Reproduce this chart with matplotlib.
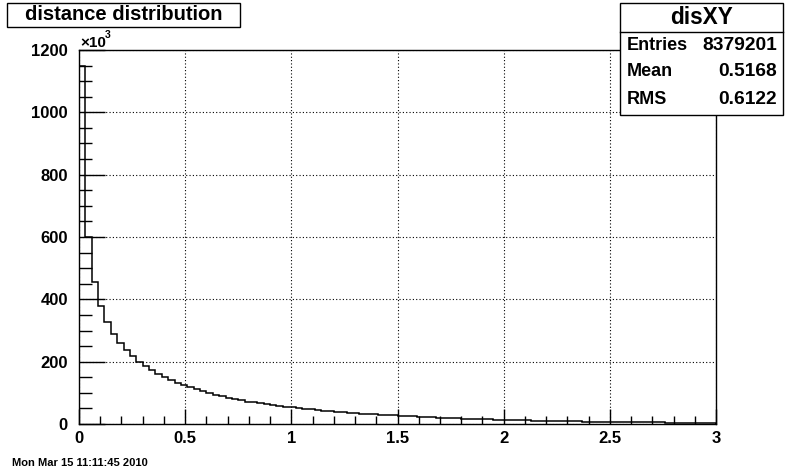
"""
Recreate the ROOT 'disXY' distance distribution histogram.
"""
import numpy as np
import matplotlib.pyplot as plt
from matplotlib.patches import Rectangle
from matplotlib.ticker import MultipleLocator

plt.rcParams['font.family'] = ['Liberation Sans', 'DejaVu Sans']
plt.rcParams['font.weight'] = 'bold'

# bin contents, in units of 10^3 entries (100 bins, 0 - 3)
counts = np.array([
    1150, 600, 456, 378, 327, 289, 260, 237, 218, 199,
    185, 172, 161, 150, 140, 132, 124, 118, 111, 105,
    99, 94, 89, 84, 80, 76, 72, 69, 66, 63,
    60, 58, 56, 53, 51, 49, 47, 45, 43, 41,
    39, 38, 36, 34.5, 33, 31.5, 30.5, 29.5, 28.5, 27.5,
    26.5, 25.5, 24.5, 23.5, 22.5, 21.5, 20.5, 19.5, 18.7, 18,
    17.3, 16.6, 16, 15.4, 14.8, 14.2, 13.6, 13, 12.5, 12,
    11.5, 11, 10.6, 10.2, 9.8, 9.4, 9, 8.6, 8.3, 8,
    7.7, 7.4, 7.1, 6.8, 6.5, 6.3, 6.0, 5.8, 5.6, 5.4,
    5.2, 5.0, 4.8, 4.6, 4.4, 4.2, 4.0, 3.9, 3.7, 3.5,
])
x_min, x_max = 0.0, 3.0
edges = np.linspace(x_min, x_max, len(counts) + 1)

hist_name = 'disXY'
hist_title = 'distance distribution'
stats_labels = ['Entries', 'Mean', 'RMS']
stats_values = ['8379201', '0.5168', '0.6122']
date_text = 'Mon Mar 15 11:11:45 2010'

W, H = 796, 472


def fx(px):
    return px / W


def fy(py):
    return 1 - py / H


fig = plt.figure(figsize=(W / 100, H / 100), dpi=100)
ax = fig.add_axes([fx(79), fy(424), (716 - 79) / W, (424 - 50) / H])

ax.stairs(counts, edges, color='black', linewidth=1.1)

ax.set_xlim(x_min, x_max)
ax.set_ylim(0, 1200)
ax.xaxis.set_major_locator(MultipleLocator(0.5))
ax.xaxis.set_minor_locator(MultipleLocator(0.1))
ax.yaxis.set_major_locator(MultipleLocator(200))
ax.yaxis.set_minor_locator(MultipleLocator(50))
ax.xaxis.set_major_formatter(lambda v, p: f'{v:g}')

ax.grid(True, which='major', color='black', linestyle=(0, (1, 2)), linewidth=0.8)
ax.tick_params(axis='both', which='both', direction='in', top=False, right=False,
               labelsize=12, width=1)
ax.tick_params(axis='x', which='major', length=11, pad=5)
ax.tick_params(axis='x', which='minor', length=5.5)
ax.tick_params(axis='y', which='major', length=19, pad=8)
ax.tick_params(axis='y', which='minor', length=9.5)
for lab in ax.get_xticklabels() + ax.get_yticklabels():
    lab.set_fontweight('bold')
for s in ax.spines.values():
    s.set_linewidth(1)

# exponent marker above the y axis
fig.text(fx(80), fy(47), '×10', fontsize=11, ha='left', va='baseline')
fig.text(fx(104.5), fy(38), '3', fontsize=7.5, ha='left', va='baseline')

# title box
fig.add_artist(Rectangle((fx(7), fy(27)), fx(240 - 7), (27 - 3) / H, transform=fig.transFigure,
                         facecolor='white', edgecolor='black', linewidth=1, zorder=5))
fig.text(fx(123.5), fy(15), hist_title, fontsize=14.5, ha='center', va='center', zorder=6)

# stats box
fig.add_artist(Rectangle((fx(620), fy(115)), fx(783 - 620), (115 - 3) / H, transform=fig.transFigure,
                         facecolor='white', edgecolor='black', linewidth=1, zorder=5))
fig.add_artist(plt.Line2D([fx(620), fx(783)], [fy(32), fy(32)], transform=fig.transFigure,
                          color='black', linewidth=1, zorder=6))
fig.text(fx(701.5), fy(17.5), hist_name, fontsize=16.3, ha='center', va='center', zorder=6)
for i, (lab, val) in enumerate(zip(stats_labels, stats_values)):
    yy = fy(45 + i * 27)
    fig.text(fx(627), yy, lab, fontsize=13, ha='left', va='center', zorder=6)
    fig.text(fx(777), yy, val, fontsize=13.8, ha='right', va='center', zorder=6)

fig.text(fx(12), fy(463), date_text, fontsize=8, ha='left', va='center')

fig.savefig('out.png', dpi=100)
